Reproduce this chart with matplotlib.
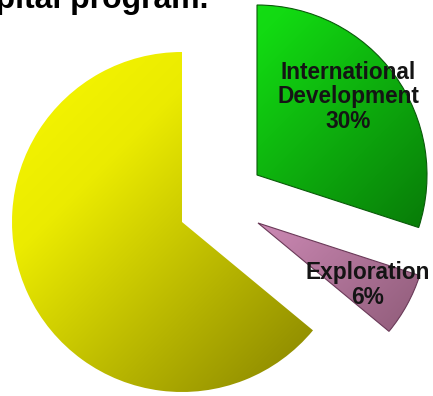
import numpy as np
import matplotlib
matplotlib.use("Agg")
import matplotlib.pyplot as plt
from matplotlib.colors import LinearSegmentedColormap

# Capital program split (percent)
categories = ["International\nDevelopment", "Exploration", "Production"]
shares = [30, 6, 64]
show_label = [True, True, False]

# Gradient stops per slice: light (upper-left) -> dark (lower-right)
grad_colors = [[(0.0, "#1aec1a"), (0.3, "#12da12"), (1.0, "#055c05")],
               [(0.0, "#f8b0e0"), (0.3, "#eaa0d2"), (1.0, "#80506a")],
               [(0.0, "#f8f800"), (0.3, "#ebeb00"), (1.0, "#7e7a00")]]
edge_colors = ["#0a5a0a", "#6a3a58", "none"]

W, H = 433, 396
fig = plt.figure(figsize=(W / 100, H / 100), dpi=100)
ax = fig.add_axes([0, 0, 1, 1])

radius = 170
base_center = (182, 174)
# slice centers after pulling the small slices out
slice_centers = [(257, 221), (258, 173), (182, 174)]

wedges, _ = ax.pie(shares, startangle=90, counterclock=False,
                   radius=radius, center=base_center, frame=True)
ax.set_aspect("equal")
ax.axis("off")

grad = np.linspace(0, 1, 300)
gx, gy = np.meshgrid(grad, grad)
diag = (gx + gy) / 2.0

for w, c, stops, ec in zip(wedges, slice_centers, grad_colors, edge_colors):
    w.set_center(c)
    w.set_facecolor("none")
    w.set_edgecolor(ec)
    w.set_linewidth(0.8 if ec != "none" else 0)
    w.set_zorder(3)
    cmap = LinearSegmentedColormap.from_list("g", stops)
    cx, cy = c
    im = ax.imshow(diag, cmap=cmap, origin="upper",
                   extent=(cx - radius, cx + radius, cy - radius, cy + radius),
                   interpolation="bilinear", zorder=2, aspect="auto")
    im.set_clip_path(w)

ax.set_xlim(0, W)
ax.set_ylim(0, H)

# slice labels
label_pos = [(348, H - 97), (368, H - 285)]
for name, share, show, pos in zip(categories, shares, show_label,
                                  label_pos + [None]):
    if not show:
        continue
    ax.text(pos[0], pos[1], f"{name}\n{share}%", ha="center", va="center",
            fontsize=16.3, fontweight="bold", family="Liberation Sans",
            color="#141414", linespacing=1.1, zorder=5)

# title (runs off the top-left edge)
ax.text(208, H - 8, "capital program.", fontsize=23, fontweight="bold",
        family="Liberation Sans", color="black", ha="right", va="baseline",
        zorder=6, clip_on=False)

fig.savefig("out.png", dpi=100)
